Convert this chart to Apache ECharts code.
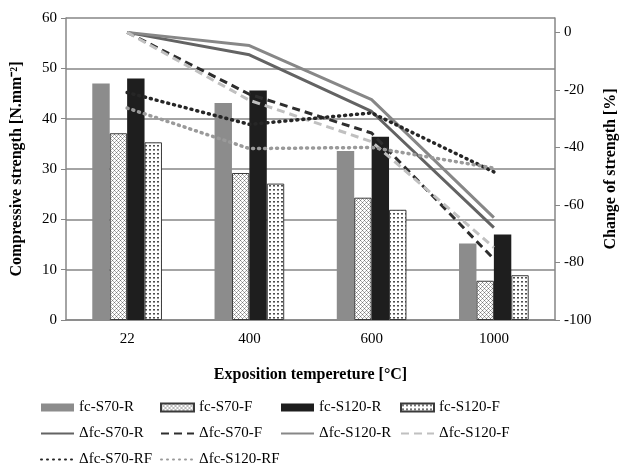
<!DOCTYPE html>
<html>
<head>
<meta charset="utf-8">
<script src="https://cdn.jsdelivr.net/npm/echarts@6/dist/echarts.min.js"></script>
<style>
  html, body { margin: 0; padding: 0; background: #fff; }
  #chart { width: 621px; height: 466px; }
</style>
</head>
<body>
<div id="chart"></div>
<script>
// temperatures
const categories = ['22', '400', '600', '1000'];

// compressive strength [N.mm-2]
const fcS70R = [47.0, 43.1, 33.6, 15.2];
const fcS70F = [37.1, 29.2, 24.3, 7.8];
const fcS120R = [48.0, 45.6, 36.4, 17.0];
const fcS120F = [35.3, 27.1, 21.9, 8.9];

// change of strength [%]
const dS70R = [0, -7.8, -27.5, -67.9];
const dS70F = [0, -21.5, -35, -78.8];
const dS120R = [0, -4.6, -23.4, -64.4];
const dS120F = [0, -23.6, -38, -74.8];
const dS70RF = [-20.9, -32, -28, -48.5];
const dS120RF = [-26.3, -40.4, -40, -47.2];

// legend columns, top to bottom
const legendCols = [
  ['fc-S70-R', 'Δfc-S70-R', 'Δfc-S70-RF'],
  ['fc-S70-F', 'Δfc-S70-F', 'Δfc-S120-RF'],
  ['fc-S120-R', 'Δfc-S120-R'],
  ['fc-S120-F', 'Δfc-S120-F']
];

const font = 'Liberation Serif';

// small repeating fills for the "F" bars
function makePattern(draw) {
  const c = document.createElement('canvas');
  c.width = 4; c.height = 4;
  const ctx = c.getContext('2d');
  ctx.fillStyle = '#fff';
  ctx.fillRect(0, 0, 4, 4);
  draw(ctx);
  return { image: c, repeat: 'repeat' };
}
const crossFill = makePattern(function (ctx) {
  ctx.fillStyle = '#7a7a7a';
  ctx.fillRect(0, 0, 1, 1); ctx.fillRect(2, 2, 1, 1);
  ctx.fillStyle = '#b0b0b0';
  ctx.fillRect(1, 1, 1, 1); ctx.fillRect(3, 3, 1, 1);
  ctx.fillRect(3, 1, 1, 1); ctx.fillRect(1, 3, 1, 1);
});
const dotFill = makePattern(function (ctx) {
  ctx.fillStyle = '#505050';
  ctx.fillRect(1, 1, 2, 1);
  ctx.fillStyle = '#9a9a9a';
  ctx.fillRect(1, 2, 2, 1);
});

const chart = echarts.init(document.getElementById('chart'));

function bar(name, data, color, border) {
  return {
    name: name,
    type: 'bar',
    data: data,
    barGap: 0,
    barCategoryGap: '43%',
    itemStyle: {
      color: color,
      borderColor: border ? '#3a3a3a' : null,
      borderWidth: border ? 1 : 0
    }
  };
}
function line(name, data, color, type, width) {
  return {
    name: name,
    type: 'line',
    yAxisIndex: 1,
    data: data,
    symbol: 'none',
    z: 5,
    lineStyle: { color: color, width: width, type: type, cap: Array.isArray(type) && type[0] === 1 ? 'round' : 'butt' },
    itemStyle: { color: color }
  };
}

const colLeft = [40, 160, 280, 400];
const legends = legendCols.map(function (names, i) {
  return {
    orient: 'vertical',
    left: colLeft[i],
    top: 400,
    height: 80,
    padding: 0,
    itemGap: 11,
    itemWidth: 33,
    itemHeight: 8,
    itemStyle: { opacity: 0 },
    textStyle: { fontFamily: font, fontSize: 15, color: '#000' },
    data: names.map(function (n) {
      return n.indexOf('Δ') === 0 ? { name: n } : { name: n, icon: 'rect', itemStyle: { opacity: 1 } };
    })
  };
});

const option = {
  animation: false,
  grid: { left: 66, right: 66, top: 18, bottom: 146, outerBoundsMode: 'none' },
  legend: legends,
  xAxis: {
    type: 'category',
    data: categories,
    name: 'Exposition tempereture [°C]',
    nameLocation: 'middle',
    nameGap: 47,
    nameTextStyle: { fontFamily: font, fontSize: 16, fontWeight: 'bold', color: '#000' },
    axisLine: { lineStyle: { color: '#868686', width: 1.5 } },
    axisTick: { show: false },
    axisLabel: { fontFamily: font, fontSize: 15, color: '#000', margin: 12 }
  },
  yAxis: [
    {
      type: 'value',
      min: 0,
      max: 60,
      interval: 10,
      name: 'Compressive strength [N.mm⁻²]',
      nameLocation: 'middle',
      nameGap: 41,
      nameTextStyle: { fontFamily: font, fontSize: 16, fontWeight: 'bold', color: '#000' },
      axisLine: { show: true, lineStyle: { color: '#868686', width: 1.5 } },
      axisTick: { show: true, length: 5, lineStyle: { color: '#868686' } },
      axisLabel: { fontFamily: font, fontSize: 15, color: '#000', margin: 9 },
      splitLine: { lineStyle: { color: '#868686', width: 1.5 } }
    },
    {
      type: 'value',
      min: -100,
      max: 5,
      interval: 20,
      name: 'Change of strength [%]',
      nameLocation: 'middle',
      nameGap: 43,
      nameRotate: 90,
      nameTextStyle: { fontFamily: font, fontSize: 16, fontWeight: 'bold', color: '#000' },
      axisLine: { show: true, lineStyle: { color: '#868686', width: 1.5 } },
      axisTick: { show: true, length: 5, lineStyle: { color: '#868686' } },
      axisLabel: { fontFamily: font, fontSize: 15, color: '#000', margin: 9, showMaxLabel: false },
      splitLine: { show: false }
    }
  ],
  series: [
    bar('fc-S70-R', fcS70R, '#8c8c8c', false),
    bar('fc-S70-F', fcS70F, crossFill, true),
    bar('fc-S120-R', fcS120R, '#1e1e1e', false),
    bar('fc-S120-F', fcS120F, dotFill, true),
    line('Δfc-S70-R', dS70R, '#636363', 'solid', 3),
    line('Δfc-S70-F', dS70F, '#2e2e2e', [8, 5], 3),
    line('Δfc-S120-R', dS120R, '#878787', 'solid', 3),
    line('Δfc-S120-F', dS120F, '#c0c0c0', [8, 5], 3),
    line('Δfc-S70-RF', dS70RF, '#262626', [1, 5], 3.5),
    line('Δfc-S120-RF', dS120RF, '#9a9a9a', [1, 5], 3.5)
  ]
};

chart.setOption(option);
</script>
</body>
</html>
